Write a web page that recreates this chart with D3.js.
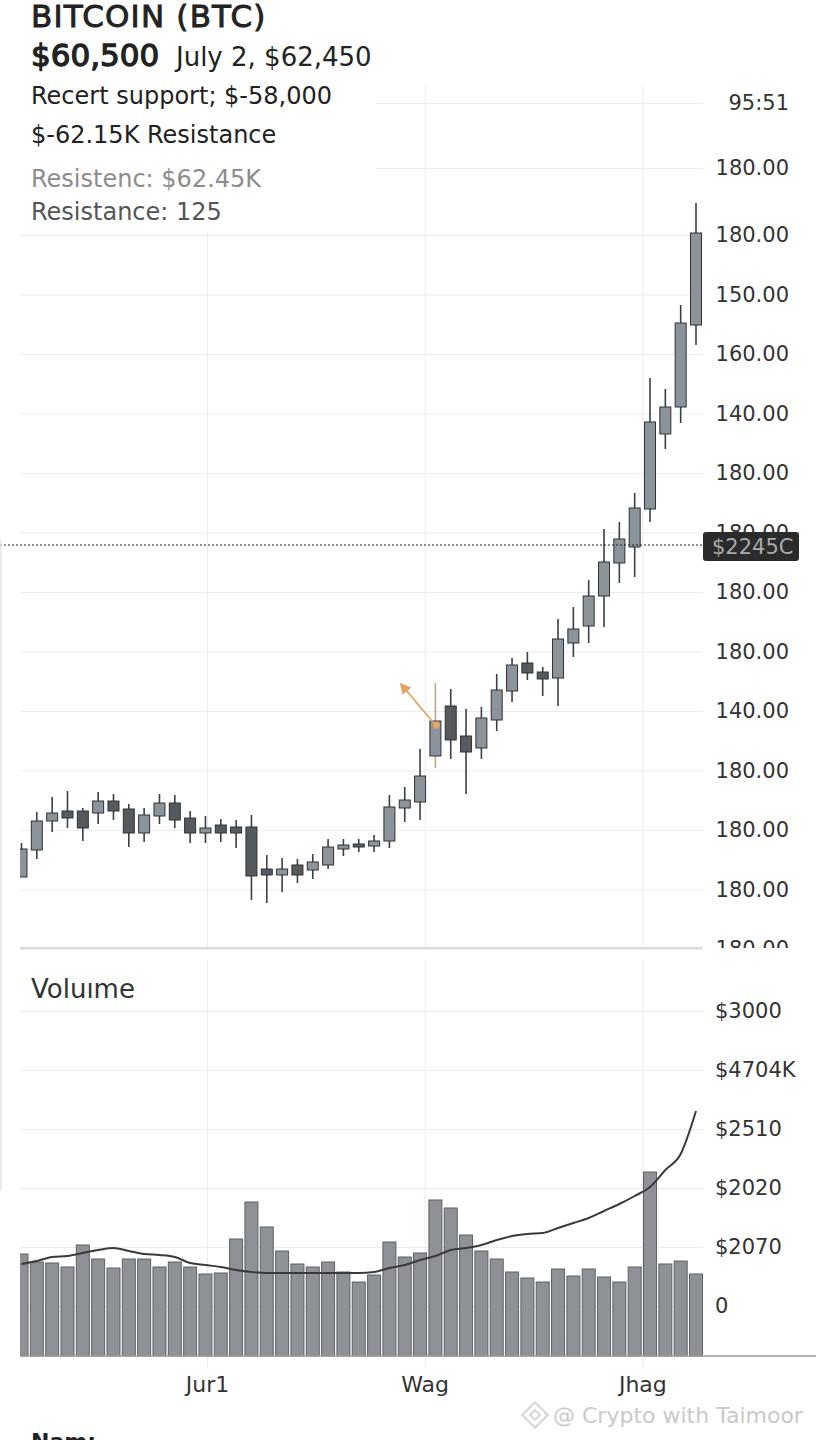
<!DOCTYPE html>
<html>
<head>
<meta charset="utf-8">
<script src="https://cdn.jsdelivr.net/npm/d3@7"></script>
<style>
  body { margin: 0; background: #fff; }
  svg { display: block; font-family: "DejaVu Sans", sans-serif; }
</style>
</head>
<body>
<div id="container"></div>
<script>
// candles, one per day
const opens  = [55720,55990,56280,56380,56380,56360,56480,56400,56160,56330,56460,56310,56160,56240,56220,56220,55800,55740,55840,55790,55840,56000,56050,56030,56080,56410,56470,56930,57430,57130,57010,57290,57580,57860,57770,57710,58060,58230,58530,58860,59020,59400,60150,60420,61240];
const highs  = [56060,56370,56520,56580,56410,56570,56550,56450,56410,56550,56540,56380,56330,56300,56290,56340,55940,55910,55900,55950,56100,56100,56100,56140,56540,56620,57000,57660,57600,57400,57420,57750,57910,57970,57820,58300,58420,58690,59200,59270,59560,60710,60600,61440,62460];
const lows   = [55720,55900,56170,56210,56080,56250,56290,56020,56070,56250,56210,56060,56060,56070,56010,55490,55460,55570,55660,55700,55800,55930,55970,55970,56010,56270,56290,56810,56900,56550,56900,57180,57470,57690,57530,57430,57920,58060,58220,58660,58720,59270,60000,60260,61040];
const closes = [56000,56280,56360,56310,56210,56480,56380,56160,56340,56460,56290,56160,56210,56160,56160,55730,55740,55800,55740,55870,56020,56040,56020,56080,56420,56490,56730,57280,57090,56970,57310,57590,57840,57760,57700,58100,58200,58530,58870,59100,59410,60270,60420,61260,62160];

const volumes  = [1020,940,930,890,1110,970,880,970,970,890,940,890,820,830,1170,1540,1290,1050,920,890,940,840,740,810,1140,990,1030,1560,1480,1210,1050,970,840,780,740,870,800,870,790,740,890,1840,920,950,820];
const volumeMA = [920,950,990,1000,1030,1060,1080,1050,1020,1010,990,930,910,890,860,840,830,830,830,830,830,830,830,840,880,910,960,1000,1060,1080,1110,1160,1200,1220,1230,1280,1330,1380,1450,1520,1600,1690,1860,2020,2450];

const priceTicks  = [55000,55595,56190,56785,57380,57975,58570,59165,59760,60355,60950,61545,62140,62810,63460];
const priceLabels = ["180.00","180.00","180.00","180.00","140.00","180.00","180.00","180.00","180.00","140.00","160.00","150.00","180.00","180.00","95:51"];
const volTicks  = [500,1090,1680,2270,2860,3450];
const volLabels = ["0","$2070","$2020","$2510","$4704K","$3000"];
const dateTicks  = [12.1, 26.3, 40.5];
const dateLabels = ["Jur1","Wag","Jhag"];

const lastPrice = 59040;
const lastPriceLabel = "$2245C";
const markedCandle = 27;

const width = 816, height = 1440;
const plotLeft = 20, plotRight = 703;
const priceTop = 85, priceBottom = 948;
const volTop = 960, volBottom = 1356;

const svg = d3.select("#container")
    .append("svg")
    .attr("width", width)
    .attr("height", height);

svg.append("rect").attr("width", width).attr("height", height).attr("fill", "#fff");

const defs = svg.append("defs");
defs.append("clipPath").attr("id", "plotClip")
    .append("rect").attr("x", plotLeft).attr("y", 0).attr("width", plotRight - plotLeft).attr("height", height);
defs.append("clipPath").attr("id", "priceLabelClip")
    .append("rect").attr("x", -800).attr("y", 0).attr("width", 1600).attr("height", priceBottom);
defs.append("marker")
    .attr("id", "arrowHead")
    .attr("viewBox", "0 0 10 10")
    .attr("refX", 5).attr("refY", 5)
    .attr("markerWidth", 7).attr("markerHeight", 7)
    .attr("orient", "auto")
    .append("path").attr("d", "M0,0L10,5L0,10z").attr("fill", "#e2a35c");

const x = d3.scaleLinear().domain([0, opens.length - 1]).range([21.5, 696]);
const y = d3.scaleLinear().domain([55000, 64000]).range([949, 49]);
const yV = d3.scaleLinear().domain([0, 4000]).range([volBottom, 956]);

// grid: price panel
svg.append("g")
    .attr("transform", `translate(${plotRight},0)`)
    .call(d3.axisLeft(y).tickValues(priceTicks).tickSize(plotRight - plotLeft).tickFormat(""))
    .call(g => g.select(".domain").remove())
    .selectAll("line").attr("stroke", "#ececec");

svg.append("g")
    .attr("transform", `translate(0,${priceTop})`)
    .call(d3.axisBottom(x).tickValues(dateTicks).tickSize(priceBottom - priceTop).tickFormat(""))
    .call(g => g.select(".domain").remove())
    .selectAll("line").attr("stroke", "#ececec");

// grid: volume panel
svg.append("g")
    .attr("transform", `translate(${plotRight},0)`)
    .call(d3.axisLeft(yV).tickValues(volTicks).tickSize(plotRight - plotLeft).tickFormat(""))
    .call(g => g.select(".domain").remove())
    .selectAll("line").attr("stroke", "#ececec");

svg.append("g")
    .attr("transform", `translate(0,${volTop})`)
    .call(d3.axisBottom(x).tickValues(dateTicks).tickSize(1368 - volTop).tickFormat(""))
    .call(g => g.select(".domain").remove())
    .selectAll("line").attr("stroke", "#ececec");

// header box hides the grid behind the text
svg.append("rect").attr("x", 0).attr("y", 0).attr("width", 376).attr("height", 232).attr("fill", "#fff");

const medium = sel => sel.attr("stroke", "#222").attr("stroke-width", 0.9).attr("paint-order", "stroke");

svg.append("text").attr("x", 31).attr("y", 27)
    .attr("font-size", 31).attr("letter-spacing", 1.2).attr("fill", "#222")
    .call(medium)
    .text("BITCOIN (BTC)");
svg.append("text").attr("x", 31).attr("y", 66)
    .attr("font-size", 31).attr("fill", "#222")
    .call(sel => sel.attr("stroke", "#222").attr("stroke-width", 1.3))
    .text("$60,500");
svg.append("text").attr("x", 176).attr("y", 66)
    .attr("font-size", 26).attr("fill", "#222")
    .text("July 2, $62,450");
svg.append("text").attr("x", 31).attr("y", 104)
    .attr("font-size", 24).attr("fill", "#222")
    .text("Recert support; $-58,000");
svg.append("text").attr("x", 31).attr("y", 143)
    .attr("font-size", 24).attr("fill", "#222")
    .text("$-62.15K Resistance");
svg.append("text").attr("x", 31).attr("y", 187)
    .attr("font-size", 24).attr("fill", "#8c8c8c")
    .text("Resistenc: $62.45K");
svg.append("text").attr("x", 31).attr("y", 220)
    .attr("font-size", 24).attr("fill", "#555")
    .text("Resistance: 125");

// price axis labels
const priceAxis = svg.append("g")
    .attr("transform", "translate(789,0)")
    .attr("clip-path", "url(#priceLabelClip)")
    .call(d3.axisRight(y).tickValues(priceTicks).tickSize(0).tickFormat((d, i) => priceLabels[i]))
    .call(g => g.select(".domain").remove());
priceAxis.selectAll("text")
    .attr("x", 0)
    .attr("text-anchor", "end")
    .attr("font-family", "DejaVu Sans")
    .attr("font-size", 21)
    .attr("fill", "#333");

// candles
const candles = svg.append("g").attr("clip-path", "url(#plotClip)")
    .selectAll("g")
    .data(opens.map((o, i) => ({i, o, h: highs[i], l: lows[i], c: closes[i]})))
    .enter()
    .append("g");

candles.append("line")
    .attr("x1", d => x(d.i)).attr("x2", d => x(d.i))
    .attr("y1", d => y(d.h)).attr("y2", d => y(d.l))
    .attr("stroke", d => d.i === markedCandle ? "#c9a47c" : "#3b3f43")
    .attr("stroke-width", 1.6);

candles.append("rect")
    .attr("x", d => x(d.i) - 5.5)
    .attr("width", 11)
    .attr("y", d => y(Math.max(d.o, d.c)))
    .attr("height", d => Math.max(1.5, Math.abs(y(d.o) - y(d.c))))
    .attr("fill", d => d.c >= d.o ? "#8a949a" : "#555a5f")
    .attr("stroke", "#2e3236")
    .attr("stroke-width", 1);

// annotation arrow on the breakout candle
const ax = x(markedCandle), ay = y(closes[markedCandle]) + 4;
svg.append("line")
    .attr("x1", ax).attr("y1", ay)
    .attr("x2", ax - 32).attr("y2", ay - 38)
    .attr("stroke", "#e2a35c").attr("stroke-width", 1.6)
    .attr("marker-end", "url(#arrowHead)");
svg.append("circle").attr("cx", ax + 1).attr("cy", ay).attr("r", 3.5).attr("fill", "#e9a46a");

// bottom of price panel
svg.append("line")
    .attr("x1", plotLeft).attr("x2", plotRight)
    .attr("y1", priceBottom).attr("y2", priceBottom)
    .attr("stroke", "#cfcfcf").attr("stroke-width", 1.5);

// last price line and tag
svg.append("line")
    .attr("x1", 0).attr("x2", plotRight)
    .attr("y1", y(lastPrice)).attr("y2", y(lastPrice))
    .attr("stroke", "#222").attr("stroke-width", 1.2)
    .attr("stroke-dasharray", "2,2");
svg.append("rect")
    .attr("x", plotRight).attr("y", y(lastPrice) - 13)
    .attr("width", 96).attr("height", 29).attr("rx", 3)
    .attr("fill", "#2b2b2b");
svg.append("text")
    .attr("x", plotRight + 9).attr("y", y(lastPrice) + 2)
    .attr("dy", "0.35em")
    .attr("font-size", 21).attr("fill", "#a9a9a9")
    .text(lastPriceLabel);

// left edge rule
svg.append("line").attr("x1", 1).attr("x2", 1).attr("y1", 540).attr("y2", 1190)
    .attr("stroke", "#e4e4e4").attr("stroke-width", 1.5);

// volume panel
svg.append("text").attr("x", 31).attr("y", 998)
    .attr("font-size", 26).attr("fill", "#333")
    .text("Voluıme");

svg.append("g").attr("clip-path", "url(#plotClip)")
    .selectAll("rect")
    .data(volumes)
    .enter()
    .append("rect")
    .attr("x", (d, i) => x(i) - 6.5)
    .attr("width", 13)
    .attr("y", d => yV(d))
    .attr("height", d => volBottom - yV(d))
    .attr("fill", "#8e9296")
    .attr("stroke", "#5d6165")
    .attr("stroke-width", 1);

svg.append("path")
    .datum(volumeMA)
    .attr("fill", "none")
    .attr("stroke", "#3a3a3a")
    .attr("stroke-width", 2)
    .attr("d", d3.line().x((d, i) => x(i)).y(d => yV(d)).curve(d3.curveMonotoneX));

svg.append("line")
    .attr("x1", plotLeft).attr("x2", width)
    .attr("y1", volBottom).attr("y2", volBottom)
    .attr("stroke", "#a0a0a0").attr("stroke-width", 1.5);

const volAxis = svg.append("g")
    .attr("transform", "translate(715,0)")
    .call(d3.axisRight(yV).tickValues(volTicks).tickSize(0).tickFormat((d, i) => volLabels[i]))
    .call(g => g.select(".domain").remove());
volAxis.selectAll("text")
    .attr("x", 0)
    .attr("text-anchor", "start")
    .attr("font-family", "DejaVu Sans")
    .attr("font-size", 21)
    .attr("fill", "#333");

const dateAxis = svg.append("g")
    .attr("transform", `translate(0,${volBottom})`)
    .call(d3.axisBottom(x).tickValues(dateTicks).tickSize(0).tickFormat((d, i) => dateLabels[i]))
    .call(g => g.select(".domain").remove());
dateAxis.selectAll("text")
    .attr("y", 36)
    .attr("dy", 0)
    .attr("font-family", "DejaVu Sans")
    .attr("font-size", 22)
    .attr("fill", "#333");

// watermark
const mark = svg.append("g").attr("transform", "translate(535,1415)").attr("fill", "none")
    .attr("stroke", "#d6d6d6").attr("stroke-width", 2);
mark.append("rect").attr("x", -9).attr("y", -9).attr("width", 18).attr("height", 18).attr("transform", "rotate(45)");
mark.append("rect").attr("x", -3.5).attr("y", -3.5).attr("width", 7).attr("height", 7).attr("transform", "rotate(45)");
svg.append("text").attr("x", 553).attr("y", 1423)
    .attr("font-size", 22).attr("fill", "#c9c9c9")
    .text("@ Crypto with Taimoor");

svg.append("text").attr("x", 31).attr("y", 1449)
    .attr("font-size", 22).attr("font-weight", "bold").attr("fill", "#222")
    .text("Nam:");
</script>
</body>
</html>
